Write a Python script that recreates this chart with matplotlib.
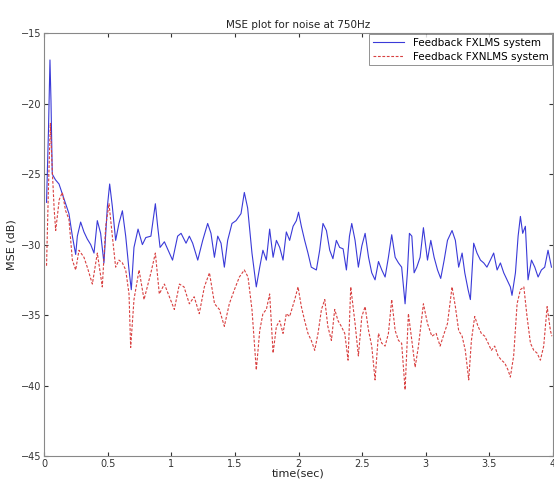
import numpy as np
import matplotlib.pyplot as plt

# Feedback FXLMS (blue, solid)
t_fxlms = [0.02, 0.035, 0.047, 0.055, 0.065, 0.09, 0.118, 0.144, 0.17, 0.196, 0.223, 0.249,
           0.262, 0.288, 0.314, 0.34, 0.367, 0.393, 0.419, 0.445, 0.471, 0.498, 0.516, 0.537,
           0.563, 0.589, 0.616, 0.642, 0.668, 0.686, 0.707, 0.739, 0.773, 0.80, 0.84, 0.875,
           0.893, 0.912, 0.946, 0.985, 1.01, 1.05, 1.077, 1.116, 1.142, 1.168, 1.208, 1.247,
           1.286, 1.312, 1.339, 1.365, 1.391, 1.417, 1.443, 1.477, 1.509, 1.548, 1.574, 1.60,
           1.634, 1.668, 1.695, 1.72, 1.747, 1.773, 1.80, 1.826, 1.852, 1.878, 1.904, 1.93,
           1.957, 1.983, 2.0, 2.022, 2.048, 2.074, 2.10, 2.14, 2.166, 2.192, 2.219, 2.245,
           2.27, 2.297, 2.323, 2.35, 2.376, 2.40, 2.418, 2.444, 2.47, 2.497, 2.523, 2.55,
           2.575, 2.601, 2.628, 2.654, 2.68, 2.706, 2.732, 2.759, 2.785, 2.81, 2.837, 2.855,
           2.871, 2.89, 2.908, 2.929, 2.955, 2.981, 3.013, 3.039, 3.065, 3.092, 3.117, 3.144,
           3.17, 3.206, 3.232, 3.258, 3.285, 3.306, 3.332, 3.35, 3.376, 3.402, 3.429, 3.455,
           3.48, 3.507, 3.533, 3.56, 3.586, 3.612, 3.638, 3.664, 3.677, 3.704, 3.725, 3.743,
           3.761, 3.782, 3.803, 3.83, 3.856, 3.882, 3.908, 3.934, 3.96, 3.987]
mse_fxlms = [-27.0, -22.0, -16.9, -19.8, -25.0, -25.4, -25.7, -26.4, -27.1, -27.8, -29.4, -30.7,
             -29.4, -28.4, -29.1, -29.6, -30.0, -30.6, -28.3, -29.2, -31.3, -27.3, -25.7, -27.3,
             -29.7, -28.5, -27.6, -29.4, -31.8, -33.2, -30.2, -28.9, -30.0, -29.5, -29.4, -27.1,
             -28.7, -30.2, -29.8, -30.6, -31.1, -29.4, -29.2, -29.9, -29.4, -29.9, -31.1, -29.7,
             -28.5, -29.2, -30.9, -29.4, -29.9, -31.6, -29.7, -28.5, -28.3, -27.8, -26.3, -27.4,
             -30.6, -33.0, -31.6, -30.4, -31.1, -28.9, -30.9, -29.7, -30.2, -31.1, -29.1, -29.7,
             -28.7, -28.3, -27.7, -28.7, -29.7, -30.6, -31.6, -31.8, -30.4, -28.5, -29.0, -30.4,
             -31.0, -29.7, -30.2, -30.3, -31.8, -29.4, -28.5, -29.7, -31.6, -30.1, -29.2, -30.9,
             -32.0, -32.5, -31.2, -31.8, -32.3, -30.9, -29.3, -30.9, -31.3, -31.6, -34.2, -32.0,
             -29.2, -29.4, -32.0, -31.6, -30.9, -28.8, -31.1, -29.7, -30.9, -31.8, -32.4, -31.1,
             -29.7, -29.0, -29.7, -31.6, -30.6, -32.0, -33.2, -33.9, -29.9, -30.6, -31.1, -31.3,
             -31.6, -31.1, -30.6, -31.8, -31.3, -32.0, -32.5, -33.0, -33.6, -32.0, -29.4, -28.0,
             -29.2, -28.7, -32.5, -31.1, -31.6, -32.3, -31.8, -31.6, -30.4, -31.6]

# Feedback FXNLMS (red, dashed)
t_fxnlms = [0.02, 0.035, 0.05, 0.065, 0.08, 0.092, 0.12, 0.144, 0.17, 0.196, 0.223, 0.249,
            0.275, 0.314, 0.34, 0.38, 0.419, 0.458, 0.485, 0.511, 0.537, 0.563, 0.589, 0.616,
            0.642, 0.668, 0.681, 0.707, 0.747, 0.786, 0.84, 0.875, 0.906, 0.946, 0.985, 1.024,
            1.064, 1.10, 1.142, 1.18, 1.22, 1.26, 1.30, 1.34, 1.378, 1.417, 1.456, 1.496,
            1.535, 1.574, 1.603, 1.634, 1.668, 1.695, 1.72, 1.747, 1.773, 1.80, 1.826, 1.852,
            1.878, 1.904, 1.93, 1.97, 1.996, 2.022, 2.048, 2.074, 2.10, 2.127, 2.153, 2.18,
            2.206, 2.23, 2.258, 2.284, 2.31, 2.336, 2.363, 2.389, 2.41, 2.444, 2.47, 2.497,
            2.523, 2.55, 2.575, 2.601, 2.628, 2.654, 2.68, 2.706, 2.732, 2.759, 2.785, 2.81,
            2.837, 2.863, 2.89, 2.916, 2.942, 2.981, 3.013, 3.047, 3.081, 3.112, 3.144, 3.17,
            3.206, 3.232, 3.258, 3.285, 3.31, 3.337, 3.358, 3.384, 3.41, 3.436, 3.463, 3.49,
            3.515, 3.541, 3.568, 3.594, 3.62, 3.646, 3.664, 3.69, 3.717, 3.743, 3.77, 3.795,
            3.822, 3.848, 3.874, 3.90, 3.926, 3.953, 3.979, 3.99]
mse_fxnlms = [-31.5, -26.0, -21.4, -24.7, -27.5, -29.0, -26.8, -26.3, -27.6, -28.2, -31.1, -31.8,
              -30.4, -30.9, -31.6, -32.8, -30.6, -33.0, -28.7, -27.1, -29.4, -31.6, -31.1, -31.3,
              -31.8, -33.5, -37.3, -33.9, -31.8, -33.9, -32.0, -30.6, -33.5, -32.8, -33.7, -34.6,
              -32.8, -33.0, -34.2, -33.7, -34.9, -33.0, -32.0, -34.2, -34.6, -35.8, -34.2, -33.2,
              -32.3, -31.8, -32.3, -34.6, -38.9, -36.1, -34.9, -34.6, -33.5, -37.7, -35.8, -35.4,
              -36.3, -34.9, -35.1, -33.9, -33.0, -34.4, -35.4, -36.3, -36.8, -37.5, -36.3, -34.6,
              -33.9, -35.8, -36.8, -34.6, -35.4, -35.8, -36.3, -38.2, -33.0, -35.6, -37.9, -35.1,
              -34.4, -36.1, -37.2, -39.6, -36.3, -37.0, -37.2, -36.3, -33.9, -36.1, -36.8, -37.0,
              -40.3, -34.9, -36.8, -38.7, -37.2, -34.2, -35.6, -36.5, -36.3, -37.2, -36.3, -35.6,
              -33.0, -34.4, -36.1, -36.5, -37.5, -39.6, -36.8, -35.1, -35.8, -36.3, -36.5, -37.0,
              -37.5, -37.2, -37.9, -38.2, -38.4, -38.9, -39.4, -37.9, -34.2, -33.2, -33.0, -35.1,
              -37.0, -37.5, -37.7, -38.2, -37.2, -34.4, -36.1, -36.5]

x_ticks = [0, 0.5, 1, 1.5, 2, 2.5, 3, 3.5, 4]
x_tick_labels = ['0', '0.5', '1', '1.5', '2', '2.5', '3', '3.5', '4']
y_ticks = [-45, -40, -35, -30, -25, -20, -15]

fig = plt.figure(figsize=(5.54, 4.86), dpi=100)
ax = fig.add_axes([0.0794, 0.0617, 0.919, 0.870])

ax.plot(t_fxlms, mse_fxlms, color='#3a3ad8', lw=0.8, label='Feedback FXLMS system')
ax.plot(t_fxnlms, mse_fxnlms, color='#d84040', lw=0.8, ls='--', dashes=(2.5, 1.5),
        label='Feedback FXNLMS system')

ax.set_xlim(0, 4)
ax.set_ylim(-45, -15)
ax.set_xticks(x_ticks)
ax.set_xticklabels(x_tick_labels)
ax.set_yticks(y_ticks)
ax.tick_params(direction='in', length=3, labelsize=7, top=True, right=True, colors='#333333',
               pad=2)
for s in ax.spines.values():
    s.set_color('#888888')
    s.set_linewidth(0.8)

ax.set_title('MSE plot for noise at 750Hz', fontsize=7.5, pad=4, color='#222222')
ax.set_xlabel('time(sec)', fontsize=8, labelpad=0, color='#222222')
ax.set_ylabel('MSE (dB)', fontsize=8, labelpad=3, color='#222222')

leg = ax.legend(loc='upper right', fontsize=7.5, frameon=True, fancybox=False,
                borderaxespad=0.1, handlelength=3.0, borderpad=0.35, labelspacing=0.35)
leg.get_frame().set_edgecolor('#777777')
leg.get_frame().set_linewidth(0.7)

fig.savefig('out.png', dpi=100)
